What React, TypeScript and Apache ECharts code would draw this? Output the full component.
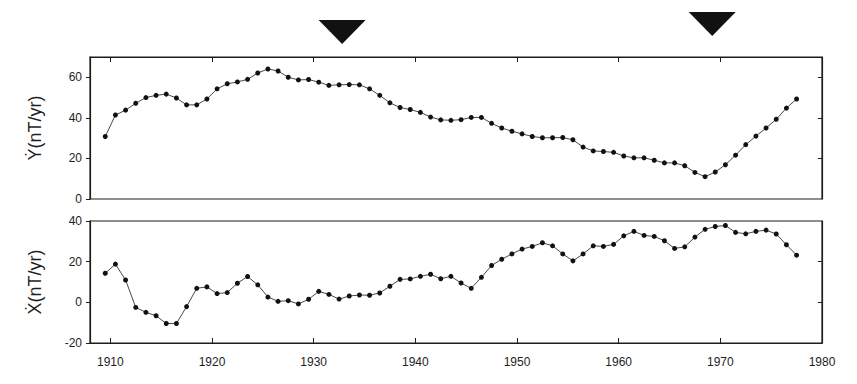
import React, { useEffect, useRef } from "react";
import * as echarts from "echarts";

const years = [
  1909.5, 1910.5, 1911.5, 1912.5, 1913.5, 1914.5, 1915.5, 1916.5, 1917.5, 1918.5,
  1919.5, 1920.5, 1921.5, 1922.5, 1923.5, 1924.5, 1925.5, 1926.5, 1927.5, 1928.5,
  1929.5, 1930.5, 1931.5, 1932.5, 1933.5, 1934.5, 1935.5, 1936.5, 1937.5, 1938.5,
  1939.5, 1940.5, 1941.5, 1942.5, 1943.5, 1944.5, 1945.5, 1946.5, 1947.5, 1948.5,
  1949.5, 1950.5, 1951.5, 1952.5, 1953.5, 1954.5, 1955.5, 1956.5, 1957.5, 1958.5,
  1959.5, 1960.5, 1961.5, 1962.5, 1963.5, 1964.5, 1965.5, 1966.5, 1967.5, 1968.5,
  1969.5, 1970.5, 1971.5, 1972.5, 1973.5, 1974.5, 1975.5, 1976.5, 1977.5,
];

const yDot = [
  30.8, 41.4, 43.8, 47.2, 50.0, 51.1, 51.7, 49.8, 46.4, 46.4,
  49.3, 54.3, 56.8, 57.7, 59.0, 62.1, 64.1, 63.1, 60.0, 58.7,
  58.9, 57.6, 56.0, 56.3, 56.4, 56.3, 54.3, 51.1, 47.4, 45.1,
  44.1, 42.7, 40.4, 39.0, 38.8, 39.1, 40.2, 40.2, 37.3, 35.0,
  33.4, 32.1, 30.8, 30.2, 30.2, 30.3, 29.2, 25.6, 23.7, 23.4,
  23.0, 21.2, 20.3, 20.3, 19.1, 17.8, 17.8, 16.4, 13.1, 11.0,
  13.3, 16.9, 21.6, 26.8, 31.0, 35.0, 39.3, 44.8, 49.3,
];

const xDot = [
  14.3, 18.8, 11.0, -2.5, -4.9, -6.6, -10.4, -10.4, -2.1, 6.9,
  7.6, 4.3, 4.8, 9.4, 12.7, 8.6, 2.6, 0.5, 0.8, -0.8,
  1.5, 5.4, 3.9, 1.6, 3.1, 3.6, 3.5, 4.6, 7.9, 11.3,
  11.5, 12.8, 13.8, 11.6, 12.8, 9.5, 6.9, 12.3, 18.1, 21.2,
  23.8, 26.2, 27.5, 29.3, 27.8, 23.8, 20.4, 23.8, 27.8, 27.5,
  28.5, 32.7, 34.9, 32.9, 32.4, 30.3, 26.5, 27.3, 32.1, 35.9,
  37.3, 37.8, 34.4, 33.7, 34.9, 35.5, 33.6, 28.3, 23.2,
];

const xTickYears = [1910, 1920, 1930, 1940, 1950, 1960, 1970, 1980];
const yTopTicks = [0, 20, 40, 60];
const yBottomTicks = [-20, 0, 20, 40];
const markerYears = [1932.8, 1969.2];

const FONT = "Liberation Sans";
const INK = "#1e1e1e";

export default function App() {
  const ref = useRef<HTMLDivElement>(null);

  useEffect(() => {
    if (!ref.current) return;
    const chart = echarts.init(ref.current, undefined, { renderer: "svg" });

    const grids = [
      { left: 90, top: 57, width: 732, height: 142 },
      { left: 90, top: 221, width: 732, height: 122 },
    ];

    const line = { show: true, onZero: false, lineStyle: { color: INK, width: 1.2 } };

    const xBase = {
      type: "value",
      min: 1908,
      max: 1980,
      splitLine: { show: false },
      axisLine: line,
    };

    const yName = (name: string) => ({
      name,
      nameLocation: "middle",
      nameGap: 46,
      nameRotate: 90,
      nameTextStyle: { fontFamily: FONT, fontSize: 18, color: INK },
    });

    const option: any = {
      animation: false,
      backgroundColor: "#ffffff",
      grid: grids.map((g) => ({ ...g, show: true, borderColor: INK, borderWidth: 1.2, backgroundColor: "transparent" })),
      xAxis: [
        {
          ...xBase,
          gridIndex: 0,
          position: "top",
          axisLabel: { show: false },
          axisTick: { show: true, inside: true, length: 5, customValues: xTickYears, lineStyle: { color: INK } },
        },
        {
          ...xBase,
          gridIndex: 1,
          position: "bottom",
          axisLabel: {
            show: true,
            margin: 13,
            customValues: xTickYears,
            formatter: (v: number) => String(v),
            fontFamily: FONT,
            fontSize: 12,
            color: INK,
          },
          axisTick: { show: true, inside: true, length: 5, customValues: xTickYears, lineStyle: { color: INK } },
        },
      ],
      yAxis: [
        {
          type: "value",
          gridIndex: 0,
          min: 0,
          max: 70,
          position: "left",
          ...yName("Ẏ(nT/yr)"),
          splitLine: { show: false },
          axisLine: line,
          axisTick: { show: true, inside: false, length: 4, customValues: yTopTicks, lineStyle: { color: INK } },
          axisLabel: { customValues: yTopTicks, margin: 8, fontFamily: FONT, fontSize: 12, color: INK },
        },
        {
          type: "value",
          gridIndex: 0,
          min: 0,
          max: 70,
          position: "right",
          splitLine: { show: false },
          axisLine: line,
          axisTick: { show: true, inside: true, length: 4, customValues: [20, 40, 60], lineStyle: { color: INK } },
          axisLabel: { show: false },
        },
        {
          type: "value",
          gridIndex: 1,
          min: -20,
          max: 40,
          position: "left",
          ...yName("Ẋ(nT/yr)"),
          splitLine: { show: false },
          axisLine: line,
          axisTick: { show: true, inside: false, length: 4, customValues: yBottomTicks, lineStyle: { color: INK } },
          axisLabel: { customValues: yBottomTicks, margin: 8, fontFamily: FONT, fontSize: 12, color: INK },
        },
        {
          type: "value",
          gridIndex: 1,
          min: -20,
          max: 40,
          position: "right",
          splitLine: { show: false },
          axisLine: line,
          axisTick: { show: true, inside: true, length: 4, customValues: [0, 20], lineStyle: { color: INK } },
          axisLabel: { show: false },
        },
      ],
      series: [
        {
          type: "line",
          xAxisIndex: 0,
          yAxisIndex: 0,
          data: years.map((y, i) => [y, yDot[i]]),
          symbol: "circle",
          symbolSize: 5,
          itemStyle: { color: "#111" },
          lineStyle: { color: "#333", width: 0.9 },
        },
        {
          type: "line",
          xAxisIndex: 1,
          yAxisIndex: 2,
          data: years.map((y, i) => [y, xDot[i]]),
          symbol: "circle",
          symbolSize: 5,
          itemStyle: { color: "#111" },
          lineStyle: { color: "#333", width: 0.9 },
        },
      ],
    };

    chart.setOption(option);

    const tops = [20, 12];
    const graphics = markerYears.map((yr, i) => {
      const p = chart.convertToPixel({ gridIndex: 0 }, [yr, 70]) as number[];
      const cx = p[0];
      const top = tops[i];
      return {
        type: "polygon",
        shape: { points: [[cx - 23.5, top], [cx + 23.5, top], [cx, top + 24]] },
        style: { fill: "#111" },
      };
    });
    chart.setOption({ graphic: graphics });

    return () => chart.dispose();
  }, []);

  return (
    <div
      ref={ref}
      style={{ position: "fixed", left: 0, top: 0, width: 857, height: 384, background: "#fff" }}
    />
  );
}
